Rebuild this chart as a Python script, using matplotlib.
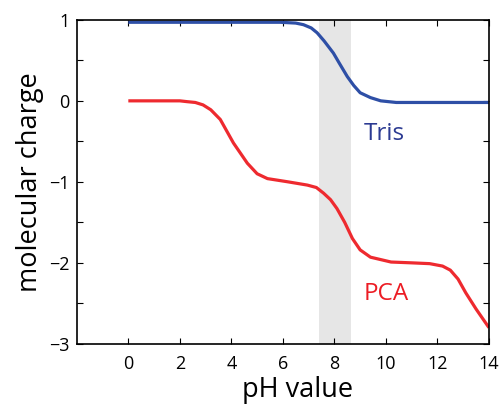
import matplotlib
matplotlib.use("Agg")
import matplotlib.pyplot as plt
from matplotlib.ticker import MultipleLocator

plt.rcParams['font.family'] = ['Open Sans', 'DejaVu Sans']

# Tris charge vs pH
tris_ph = [0, 2, 4, 5.9, 6.5, 6.8, 7.1, 7.33, 7.6, 7.96, 8.2, 8.5, 8.75, 9.0, 9.4, 9.8, 10.4, 11.7, 14]
tris_q = [0.97, 0.97, 0.97, 0.97, 0.96, 0.94, 0.9, 0.84, 0.74, 0.59, 0.46, 0.30, 0.19, 0.10, 0.04, 0.0, -0.02, -0.02, -0.02]

# PCA charge vs pH
pca_ph = [0, 1.24, 2.0, 2.28, 2.6, 2.9, 3.2, 3.57, 4.08, 4.62, 5.0, 5.4, 6.2, 6.95, 7.3, 7.58, 7.85, 8.1, 8.4, 8.7, 9.0, 9.4, 10.2, 11.0, 11.7, 12.2, 12.5, 12.8, 13.1, 13.5, 14]
pca_q = [0.0, 0.0, 0.0, -0.01, -0.02, -0.05, -0.11, -0.23, -0.52, -0.77, -0.9, -0.96, -1.0, -1.04, -1.07, -1.14, -1.22, -1.33, -1.5, -1.7, -1.84, -1.93, -1.99, -2.0, -2.01, -2.04, -2.09, -2.2, -2.37, -2.57, -2.8]

band = [7.4, 8.65]

fig = plt.figure(figsize=(5.02, 4.05), dpi=100)
ax = fig.add_axes([0.153, 0.151, 0.821, 0.80])

ax.axvspan(band[0], band[1], color='#e6e6e6', lw=0, zorder=0)
ax.plot(tris_ph, tris_q, color='#2e4fa6', lw=2.3, solid_capstyle='butt')
ax.plot(pca_ph, pca_q, color='#ee2a2f', lw=2.3, solid_capstyle='butt')

ax.text(9.13, -0.48, 'Tris', color='#2b3a92', fontsize=17.5)
ax.text(9.13, -2.46, 'PCA', color='#ec1c24', fontsize=17.5)

ax.set_xlim(-2, 14)
ax.set_ylim(-3, 1)
ax.set_xticks([0, 2, 4, 6, 8, 10, 12, 14])
ax.set_yticks([-3, -2, -1, 0, 1])
ax.set_yticklabels(['\u22123', '\u22122', '\u22121', '0', '1'])
ax.yaxis.set_minor_locator(MultipleLocator(0.5))
ax.tick_params(which='both', direction='in', top=True, right=True, labelsize=13, width=0.8)
ax.tick_params(which='major', length=4)
ax.tick_params(which='minor', length=4)
ax.tick_params(axis='x', pad=8)
ax.tick_params(axis='y', pad=5)
for s in ax.spines.values():
    s.set_linewidth(1.2)

ax.set_xlabel('pH value', fontsize=19.5)
ax.xaxis.set_label_coords(0.536, -0.1)
ax.set_ylabel('molecular charge', fontsize=19.5, labelpad=4)

fig.savefig('out.png', dpi=100)
